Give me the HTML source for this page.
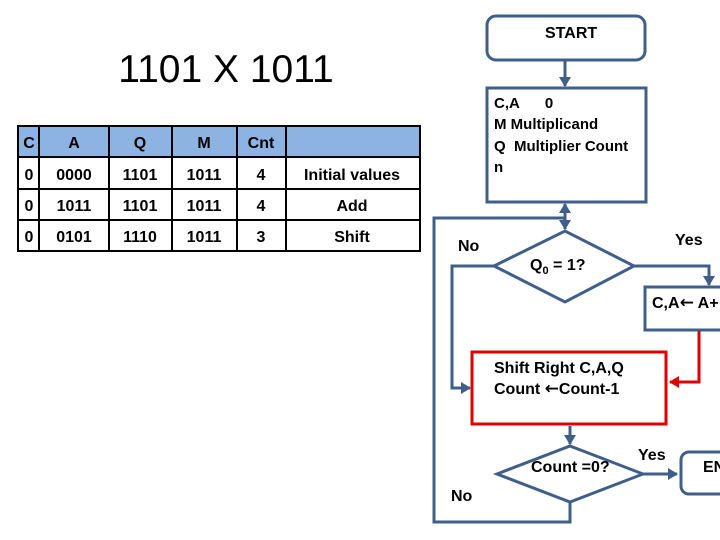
<!DOCTYPE html>
<html><head><style>
html,body{margin:0;padding:0;background:#fff;}
svg{display:block;}
</style></head><body>
<svg width="720" height="540" viewBox="0 0 720 540" xmlns="http://www.w3.org/2000/svg">
<defs>
<marker id="ab" markerWidth="12" markerHeight="12" refX="9" refY="6" orient="auto" markerUnits="userSpaceOnUse"><path d="M0,0 L10,6 L0,12 Z" fill="#3f5f8a"/></marker>
<marker id="ar" markerWidth="12" markerHeight="12" refX="9" refY="6" orient="auto" markerUnits="userSpaceOnUse"><path d="M0,0 L10,6 L0,12 Z" fill="#e00000"/></marker>
</defs>
<text x="226" y="82" font-family="Liberation Sans, sans-serif" font-size="39" text-anchor="middle" fill="#000">1101 X 1011</text>
<rect x="18" y="126" width="402" height="31" fill="#8db3e2"/>
<g stroke="#000" stroke-width="2" fill="none">
<rect x="18" y="126" width="402" height="125"/>
<line x1="18" y1="157" x2="420" y2="157"/>
<line x1="18" y1="189" x2="420" y2="189"/>
<line x1="18" y1="220" x2="420" y2="220"/>
<line x1="39" y1="126" x2="39" y2="251"/>
<line x1="109" y1="126" x2="109" y2="251"/>
<line x1="172" y1="126" x2="172" y2="251"/>
<line x1="237" y1="126" x2="237" y2="251"/>
<line x1="286" y1="126" x2="286" y2="251"/>
</g>
<g font-family="Liberation Sans, sans-serif" font-weight="bold" font-size="16" text-anchor="middle" fill="#000">
<text x="29" y="148">C</text><text x="74" y="148">A</text><text x="140" y="148">Q</text><text x="204" y="148">M</text><text x="261" y="148">Cnt</text>
<text x="29" y="180">0</text><text x="74" y="180">0000</text><text x="140" y="180">1101</text><text x="204" y="180">1011</text><text x="261" y="180">4</text><text x="352" y="180">Initial values</text>
<text x="29" y="211">0</text><text x="74" y="211">1011</text><text x="140" y="211">1101</text><text x="204" y="211">1011</text><text x="261" y="211">4</text><text x="352" y="211">Add</text>
<text x="29" y="242">0</text><text x="74" y="242">0101</text><text x="140" y="242">1110</text><text x="204" y="242">1011</text><text x="261" y="242">3</text><text x="352" y="242">Shift</text>
</g>
<g stroke="#3f5f8a" stroke-width="3" fill="none">
<rect x="487" y="16" width="158" height="44" rx="9"/>
<rect x="487" y="88" width="159" height="114"/>
<line x1="565" y1="60" x2="565" y2="86" marker-end="url(#ab)"/>
<line x1="565" y1="206" x2="565" y2="229" marker-end="url(#ab)"/>
<line x1="565" y1="216" x2="565" y2="204" marker-end="url(#ab)"/>
<polyline points="565,218 434,218 434,522 570,522 570,502"/>
<polygon points="494,266 565,231 634,266 565,302"/>
<polyline points="494,266 452,266 452,388 470,388" marker-end="url(#ab)"/>
<polyline points="634,266 709,266 709,285" marker-end="url(#ab)"/>
<rect x="645" y="287" width="80" height="43"/>
<line x1="570" y1="426" x2="570" y2="444" marker-end="url(#ab)"/>
<polygon points="497,474 570,446 643,474 570,502"/>
<line x1="643" y1="474" x2="677" y2="474" marker-end="url(#ab)"/>
<rect x="681" y="452" width="60" height="42" rx="8"/>
</g>
<g stroke="#e00000" stroke-width="3" fill="none">
<rect x="472" y="352" width="194" height="72"/>
<polyline points="699,331 699,382 670,382" marker-end="url(#ar)"/>
</g>
<g font-family="Liberation Sans, sans-serif" font-weight="bold" font-size="16" fill="#000">
<text x="545" y="38">START</text>
<text x="458" y="251">No</text>
<text x="675" y="245">Yes</text>
<text x="530" y="270">Q<tspan font-size="11" dy="4">0</tspan><tspan dy="-4"> = 1?</tspan></text>
<text x="652" y="308">C,A<tspan font-family="DejaVu Sans" font-size="17">←</tspan> A+</text>
<text x="494" y="373">Shift Right C,A,Q</text>
<text x="494" y="394">Count <tspan font-family="DejaVu Sans" font-size="17">←</tspan>Count-1</text>
<text x="531" y="472">Count =0?</text>
<text x="638" y="460">Yes</text>
<text x="451" y="501">No</text>
<text x="703" y="472">EN</text>
</g>
<g font-family="Liberation Sans, sans-serif" font-weight="bold" font-size="15" fill="#000">
<text x="494" y="108">C,A&#160;&#160;&#160;&#160;&#160;&#160;0</text>
<text x="494" y="129">M Multiplicand</text>
<text x="494" y="151">Q&#160;&#160;Multiplier Count</text>
<text x="494" y="172">n</text>
</g>
</svg>
</body></html>
